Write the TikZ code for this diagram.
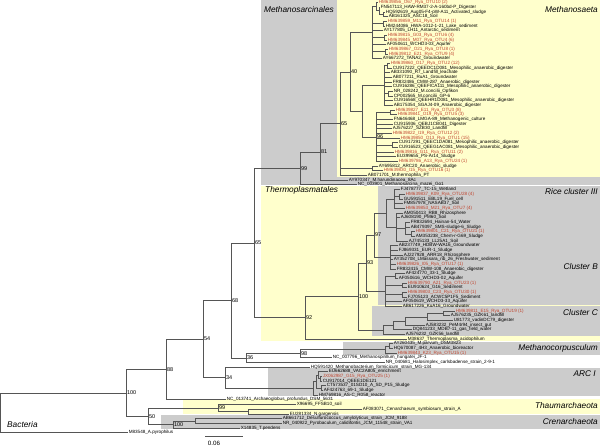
\documentclass[tikz,border=0pt]{standalone}
\usepackage{fontspec}
\setmainfont{Liberation Sans}
\usetikzlibrary{calc}
\definecolor{gbg}{HTML}{CCCCCC}
\definecolor{ybg}{HTML}{FFFFCC}
\definecolor{rtx}{HTML}{C0452F}
\definecolor{brc}{HTML}{555555}
\newcommand\Ly[1]{(2.5+(#1-1)*4.674)}
\newcommand\lvf[4]{\coordinate (t#1) at (#2,{\Ly{#1}}); \node[lab,#3] (L#1) at (t#1) {#4};}
\newcommand\tnd[4]{\path ($(#3)!0.5!(#4)$) coordinate (#1m); \coordinate (#1) at (#2,0 |- #1m);}
\newcommand\brs[2]{\foreach \c in {#2} {\draw[brl] (#1) |- (\c);}}
\begin{document}
\begin{tikzpicture}[x=1pt,y=-1pt,
  lab/.style={anchor=west,inner xsep=0.6pt,inner ysep=0pt,font=\fontsize{4.6}{5}\selectfont},
  rl/.style={text=rtx},
  bs/.style={anchor=west,inner sep=0.9pt,font=\fontsize{5.5}{6}\selectfont},
  grp/.style={inner sep=0pt,font=\fontsize{8.3}{9}\selectfont\itshape},
  brl/.style={draw=brc,line width=0.6pt},
]
\useasboundingbox (0,0) rectangle (600,447);
% backgrounds
\fill[gbg] (261,0) rectangle (600,185);
\fill[ybg] (337,0) rectangle (600,177);
\fill[ybg] (261,186) rectangle (600,341);
\fill[gbg] (378,186) rectangle (600,305);
\fill[gbg] (372,306) rectangle (600,336);
\fill[gbg] (343,342) rectangle (600,355);
\fill[gbg] (268,368) rectangle (600,396);
\fill[ybg] (183,399) rectangle (600,414);
\fill[gbg] (161,415) rectangle (600,429);
% leaves
\lvf{1}{378}{rl}{HM639856\_O67\_Rya\_OTU10 (2)}
\lvf{2}{380}{}{FN547113\_HAW-RM37-2-A-160bd-P\_Digester}
\lvf{3}{385}{}{HQ592619\_Aug05-F4-pW-A11\_Activated\_sludge}
\lvf{4}{388}{}{AB161325\_ASC18\_Soil}
\lvf{5}{387}{rl}{HM639859\_M11\_Rya\_OTU14 (1)}
\lvf{6}{385}{}{HM244086\_HWA-1012-1-21\_Lake\_sediment}
\lvf{7}{383}{}{AY177805\_LH11\_Antarctic\_sediment}
\lvf{8}{387}{rl}{HM639815\_G03\_Rya\_OTU6 (4)}
\lvf{9}{387}{rl}{HM639845\_M07\_Rya\_OTU4 (6)}
\lvf{10}{386}{}{AF050611\_WCHD3-03\_Aquifer}
\lvf{11}{388}{rl}{HM639867\_O21\_Rya\_OTU8 (1)}
\lvf{12}{388}{rl}{HM639812\_E21\_Rya\_OTU9 (4)}
\lvf{13}{382}{}{AY667272\_TANA2\_Groundwater}
\lvf{14}{390}{rl}{HM639860\_O17\_Rya\_OTU2 (12)}
\lvf{15}{392}{}{CU917222\_QEEDC1D081\_Mesophilic\_anaerobic\_digester}
\lvf{16}{390}{}{AB331090\_R7\_Landfill\_leachate}
\lvf{17}{392}{}{AB077211\_RuA1\_Groundwater}
\lvf{18}{392}{}{FR832486\_CMW-287\_Anaerobic\_digester}
\lvf{19}{392}{}{CU916286\_QEEFICA111\_Mesophilic\_anaerobic\_digester}
\lvf{20}{393}{}{NR\_028242\_M.concilii\_Opfikon}
\lvf{21}{393}{}{CP002565\_M.concilii\_GP-6}
\lvf{22}{393}{}{CU916568\_QEEHR1D081\_Mesophilic\_anaerobic\_digester}
\lvf{23}{393}{}{AB175354\_SGAJ4-09\_Anaerobic\_digester}
\lvf{24}{395}{rl}{HM639827\_E11\_Rya\_OTU3 (8)}
\lvf{25}{397}{rl}{HM639841\_O19\_Rya\_OTU5 (3)}
\lvf{26}{393}{}{FN646468\_LMGA-89\_Methanogenic\_culture}
\lvf{27}{393}{}{CU915936\_QEBJ1CB041\_Digester}
\lvf{28}{392}{}{AJ576227\_SZB30\_Landfill}
\lvf{29}{392}{rl}{HM639822\_I19\_Rya\_OTU12 (2)}
\lvf{30}{400}{rl}{HM639850\_O13\_Rya\_OTU1 (15)}
\lvf{31}{398}{}{CU917291\_QEEC1DA081\_Mesophilic\_anaerobic\_digester}
\lvf{32}{398}{}{CU916523\_QEEG1AC081\_Mesophilic\_anaerobic\_digester}
\lvf{33}{394}{rl}{HM639816\_G11\_Rya\_OTU11 (2)}
\lvf{34}{396}{}{EU399655\_PS-Ar14\_Sludge}
\lvf{35}{398}{rl}{HM639786\_A13\_Rya\_OTU24 (1)}
\lvf{36}{378}{}{AY695812\_ARC20\_Anaerobic\_sludge}
\lvf{37}{383}{rl}{HM639830\_I15\_Rya\_OTU16 (1)}
\lvf{38}{367}{}{AB071701\_M.thermophila\_PT}
\lvf{39}{348}{}{AY970347\_M.harundinacea\_8Ac}
\lvf{40}{357}{}{NC\_003901\_Methanosarcina\_mazei\_Go1}
\lvf{41}{400}{}{FJ478777\_TC-15\_Wetland}
\lvf{42}{405}{rl}{HM639837\_K09\_Rya\_OTU28 (4)}
\lvf{43}{403}{}{GU591511\_EBL19\_Fuel\_cell}
\lvf{44}{403}{}{FM857978\_NASAB37\_Soil}
\lvf{45}{405}{rl}{HM639853\_M21\_Rya\_OTU7 (4)}
\lvf{46}{403}{}{AM050413\_RB8\_Rhizosphere}
\lvf{47}{400}{}{AJ608190\_PM60\_Soil}
\lvf{48}{410}{}{FR832694\_Hainan-54\_Water}
\lvf{49}{410}{}{AB479397\_SMS-sludge-6\_Sludge}
\lvf{50}{415}{rl}{HM639801\_C21\_Rya\_OTU21 (1)}
\lvf{51}{415}{}{AM353238\_Chem-r-G69\_Sludge}
\lvf{52}{408}{}{AJ745133\_LL25A1\_Soil}
\lvf{53}{398}{}{AB237749\_HDBW-WA16\_Groundwater}
\lvf{54}{398}{}{FJ869331\_EUR-1\_Sludge}
\lvf{55}{403}{}{AJ227928\_ARR18\_Rhizosphere}
\lvf{56}{393}{}{AY352708\_LMassara\_rib\_26\_Freshwater\_sediment}
\lvf{57}{396}{rl}{HM639826\_I05\_Rya\_OTU17 (1)}
\lvf{58}{396}{}{FR832415\_CMW-108\_Anaerobic\_digester}
\lvf{59}{405}{}{AF424770\_33-1\_Sludge}
\lvf{60}{398}{}{AF050616\_WCHD3-02\_Aquifer}
\lvf{61}{407}{rl}{HM639790\_A21\_Rya\_OTU23 (1)}
\lvf{62}{407}{}{EU910624\_G16\_Sediment}
\lvf{63}{407}{rl}{HM639803\_C23\_Rya\_OTU30 (1)}
\lvf{64}{407}{}{FJ705123\_ACWC5P1F5\_Sediment}
\lvf{65}{402}{}{AF050619\_WCHD3-33\_Aquifer}
\lvf{66}{402}{}{AB617226\_KuA16\_Groundwater}
\lvf{67}{455}{rl}{HM639811\_E15\_Rya\_OTU19 (1)}
\lvf{68}{450}{}{AJ576235\_GZK61\_landfill}
\lvf{69}{453}{}{U81773\_vadinDC79\_digester}
\lvf{70}{425}{}{AJ583232\_PeM4r94\_insect\_gut}
\lvf{71}{412}{}{DQ841233\_MDB7-11\_gas\_field\_water}
\lvf{72}{405}{}{AJ576232\_GZK56\_landfill}
\lvf{73}{407}{}{M38637\_Thermoplasma\_acidophilum}
\lvf{74}{393}{}{AY260435\_M.parvum\_DSM3823}
\lvf{75}{393}{}{HQ670087\_4H3\_Anaerobic\_bioreactor}
\lvf{76}{397}{rl}{HM639843\_K23\_Rya\_OTU15 (1)}
\lvf{77}{332}{}{NC\_007796\_Methanospirillum\_hungatei\_JF-1}
\lvf{78}{385}{}{NR\_040681\_Halosimplex\_carlsbadense\_strain\_2-9-1}
\lvf{79}{310}{}{HQ591420\_Methanobacterium\_formicicum\_strain\_MG-134}
\lvf{80}{328}{}{EU662688\_VAC2A805\_enrichment}
\lvf{81}{322}{rl}{JX062987\_G15\_Rya\_OTU25 (1)}
\lvf{82}{322}{}{CU917014\_QEEE1DE121}
\lvf{83}{326}{}{CT573537\_01SD10\_A\_SD\_P15\_Sludge}
\lvf{84}{323}{}{AF424763\_69-1\_Sludge}
\lvf{85}{318}{}{HM769816\_AS-C\_R058\_reactor}
\lvf{86}{226}{}{NC\_013741\_Archaeoglobus\_profundus\_DSM\_5631}
\lvf{87}{296}{}{X96695\_FFSB10\_soil}
\lvf{88}{362}{}{AF083071\_Cenarchaeum\_symbiosum\_strain\_A}
\lvf{89}{289}{}{EU281334\_N.gargensis}
\lvf{90}{282}{}{AB661712\_Desulfurococcus\_amylolyticus\_strain\_JCM\_9188}
\lvf{91}{282}{}{NR\_040922\_Pyrobaculum\_calidifontis\_JCM\_11548\_strain\_VA1}
\lvf{92}{240}{}{X14835\_T.pendens}
\lvf{93}{128}{}{M83548\_A.pyrophilus}
% internal nodes: Methanosaeta
\tnd{a1}{383}{t3}{t4} \brs{a1}{t3,t4}
\tnd{a2}{379}{t2}{a1} \brs{a2}{t2,a1}
\tnd{a3}{376}{t1}{a2} \brs{a3}{t1,a2}
\tnd{b1}{383}{t5}{t6} \brs{b1}{t5,t6}
\tnd{c1}{384}{t8}{t9} \brs{c1}{t8,t9}
\tnd{d1}{385}{t11}{t12} \brs{d1}{t11,t12}
\tnd{ntop}{372}{a3}{t13} \brs{ntop}{a3,b1,t7,c1,t10,d1,t13}
\tnd{e1}{387}{t14}{t15} \brs{e1}{t14,t15}
\tnd{e2}{388}{t20}{t21} \brs{e2}{t20,t21}
\tnd{nl1}{384}{e1}{t23} \brs{nl1}{e1,t16,t17,t18,t19,e2,t22,t23}
\tnd{f1}{390}{t24}{t25} \brs{f1}{t24,t25}
\tnd{f2}{392}{t31}{t32} \brs{f2}{t31,t32}
\tnd{n96}{376}{f1}{t35} \brs{n96}{f1,t26,t27,t28,t29,t30,f2,t33,t34,t35}
\tnd{nl2}{372}{t36}{t37} \brs{nl2}{t36,t37}
\tnd{nlow}{362}{nl1}{n96} \brs{nlow}{nl1,n96}
\tnd{n40}{350}{ntop}{nlow} \brs{n40}{ntop,nlow}
\tnd{n65a}{340}{n40}{t38} \brs{n65a}{n40,nl2,t38}
\tnd{n81}{320}{n65a}{t39} \brs{n81}{n65a,t39}
\tnd{n99}{300}{n81}{t40} \brs{n99}{n81,t40}
% Thermoplasmatales
\tnd{g1}{399}{t42}{t43} \brs{g1}{t42,t43}
\tnd{nr3a}{394}{t41}{t45} \brs{nr3a}{t41,g1,t44,t45}
\tnd{h1}{411}{t50}{t51} \brs{h1}{t50,t51}
\tnd{h2}{405}{t48}{h1} \brs{h2}{t48,t49,h1}
\tnd{nr3b}{396}{t46}{t52} \brs{nr3b}{t46,t47,h2,t52}
\tnd{nr3}{386}{nr3a}{nr3b} \brs{nr3}{nr3a,nr3b}
\tnd{nb1}{390}{t53}{t58} \brs{nb1}{t53,t54,t55,t56,t57,t58}
\tnd{n97}{374}{nr3}{nb1} \brs{n97}{nr3,nb1}
\tnd{j1}{395}{t59}{t60} \brs{j1}{t59,t60}
\tnd{j2}{402}{t61}{t62} \brs{j2}{t61,t62}
\tnd{j3}{402}{t63}{t64} \brs{j3}{t63,t64}
\tnd{nb}{385}{j1}{t66} \brs{nb}{j1,j2,j3,t65,t66}
\tnd{n93}{366}{n97}{nb} \brs{n93}{n97,nb}
\tnd{k4}{443}{t67}{t68} \brs{k4}{t67,t68}
\tnd{k3}{427}{k4}{t69} \brs{k3}{k4,t69}
\tnd{k2}{405}{k3}{t70} \brs{k2}{k3,t70}
\tnd{k1}{393}{k2}{t71} \brs{k1}{k2,t71}
\tnd{ncc}{383}{k1}{t72} \brs{ncc}{k1,t72}
\tnd{n100b}{358}{n93}{ncc} \brs{n100b}{n93,ncc}
\tnd{n92}{305}{n100b}{t73} \brs{n92}{n100b,t73}
\tnd{n65b}{254}{n99}{n92} \brs{n65b}{n99,n92}
% Methanomicrobia rest
\tnd{m1}{389}{t74}{t75} \brs{m1}{t74,t75}
\tnd{nmc}{385}{m1}{t76} \brs{nmc}{m1,t76}
\tnd{n98}{300}{nmc}{t77} \brs{n98}{nmc,t77}
\tnd{n36}{246}{n98}{t78} \brs{n36}{n98,t78}
\tnd{n68}{231}{n65b}{n36} \brs{n68}{n65b,n36}
% ARC I
\tnd{p3}{320}{t81}{t82} \brs{p3}{t81,t82}
\tnd{p2}{318}{t80}{p3} \brs{p2}{t80,p3}
\tnd{p4}{321}{t83}{t84} \brs{p4}{t83,t84}
\tnd{p1}{316}{p2}{p4} \brs{p1}{p2,p4}
\tnd{narc}{313}{p1}{t85} \brs{narc}{p1,t85}
\tnd{n34}{225}{t79}{narc} \brs{n34}{t79,narc}
\tnd{n54}{203}{n68}{n34} \brs{n54}{n68,n34}
\tnd{n88}{166}{n54}{t86} \brs{n88}{n54,t86}
% Thaum / Cren
\tnd{q1}{248}{t88}{t89} \brs{q1}{t88,t89}
\tnd{n99t}{218}{t87}{q1} \brs{n99t}{t87,q1}
\tnd{r1}{195}{t90}{t91} \brs{r1}{t90,t91}
\tnd{n100c}{173}{r1}{t92} \brs{n100c}{r1,t92}
\tnd{n50}{148}{n99t}{n100c} \brs{n50}{n99t,n100c}
\tnd{n100a}{126}{n88}{n50} \brs{n100a}{n88,n50}
\tnd{nroot}{0}{n100a}{t93} \brs{nroot}{n100a,t93}
% bootstrap values
\foreach \n/\v in {n40/40,n65a/65,n96/96,n81/81,n99/99,n65b/65,n68/68,n54/54,n88/88,n100a/100,n97/97,n93/93,n100b/100,n92/92,n98/98,n36/36,n34/34,n99t/99,n50/50,n100c/100}
  \node[bs] (bs\n) at (\n) {\v};
% group labels
\node[grp,anchor=east] (gMsar) at (334,10) {Methanosarcinales};
\node[grp,anchor=east] (gMsae) at (598,10) {Methanosaeta};
\node[grp,anchor=west] (gTher) at (265,190) {Thermoplasmatales};
\node[grp,anchor=east] (gR3) at (598,192) {Rice cluster III};
\node[grp,anchor=east] (gCB) at (598,267) {Cluster B};
\node[grp,anchor=east] (gCC) at (598,313) {Cluster C};
\node[grp,anchor=east] (gMc) at (598,348) {Methanocorpusculum};
\node[grp,anchor=east] (gA1) at (596,374) {ARC I};
\node[grp,anchor=east] (gTh) at (598,406) {Thaumarchaeota};
\node[grp,anchor=east] (gCr) at (598,422) {Crenarchaeota};
\node[grp,anchor=west] (gBa) at (7,425) {Bacteria};
% scale bar
\coordinate (sbA) at (205,436);
\coordinate (sbB) at (243,436);
\draw[brl] (sbA) -- (sbB);
\node[inner sep=0pt,font=\fontsize{6.2}{7}\selectfont] (sbl) at (214,443) {0.06};
\end{tikzpicture}
\end{document}
